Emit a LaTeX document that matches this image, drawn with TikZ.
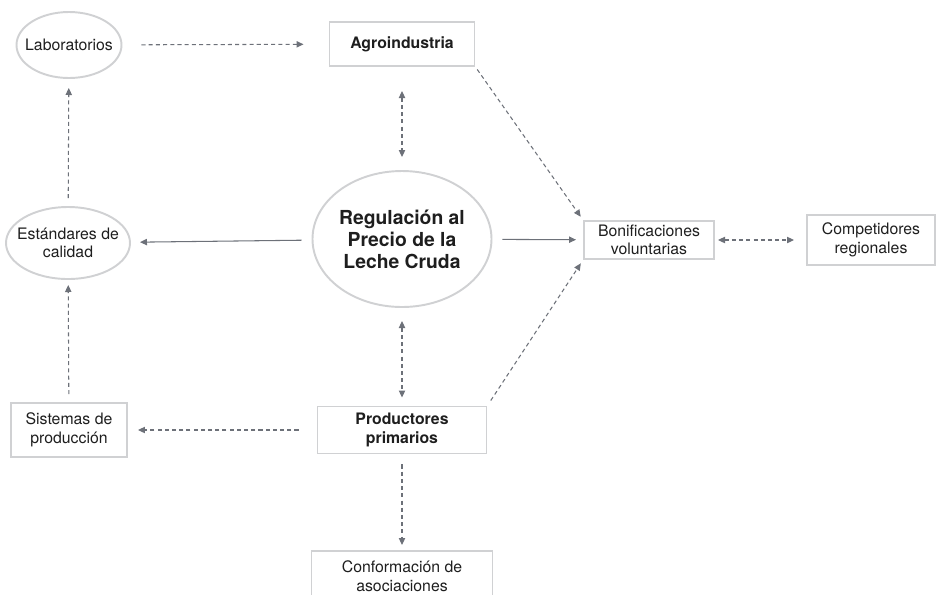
\documentclass[tikz,border=0pt]{standalone}
\usepackage{fontspec}
\setmainfont{TeX Gyre Heros}
\usepackage{tikz}
\usetikzlibrary{arrows.meta,shapes.geometric}
\definecolor{framegray}{HTML}{D0D1D3}
\definecolor{linkgray}{HTML}{6D7179}
\definecolor{textgray}{HTML}{1E1E1E}

\begin{document}
\begin{tikzpicture}[
    every node/.style={draw=framegray, line width=1.1pt, align=center, text=textgray, font=\fontsize{9}{10.5}\selectfont, inner sep=2pt},
    box/.style={rectangle},
    oval/.style={ellipse, inner xsep=-4pt, inner ysep=0pt},
    link/.style={-{Triangle[length=4pt,width=3.6pt]}, draw=linkgray, line width=0.6pt},
    twolink/.style={{Triangle[length=4pt,width=3.6pt]}-{Triangle[length=4pt,width=3.6pt]}, draw=linkgray, line width=0.6pt},
    dashline/.style={dash pattern=on 2.3pt off 1.8pt}
]
    \useasboundingbox (0,0) rectangle (18.74,-11.88);

    % Top row
    \node[oval, minimum width=2.1cm, minimum height=1.32cm] (Lab) at (1.38,-0.90) {Laboratorios};
    \node[box, minimum width=2.9cm, minimum height=0.88cm] (Agro) at (8.04,-0.88) {\textbf{Agroindustria}};

    % Middle row
    \node[oval, minimum width=2.4cm, minimum height=1.44cm] (Std) at (1.36,-4.86) {Estándares de\\calidad};
    \node[oval, inner xsep=0pt, minimum width=3.58cm, minimum height=2.72cm, font=\fontsize{11}{12.5}\selectfont\bfseries] (Reg) at (8.04,-4.78) {Regulación al\\Precio de la\\Leche Cruda};
    \node[box, minimum width=2.6cm, minimum height=0.76cm] (Bonif) at (12.98,-4.80) {Bonificaciones\\voluntarias};
    \node[box, minimum width=2.56cm, minimum height=1.0cm] (Comp) at (17.42,-4.80) {Competidores\\regionales};

    % Bottom row
    \node[box, minimum width=2.32cm, minimum height=1.08cm] (Sist) at (1.38,-8.60) {Sistemas de\\producción};
    \node[box, minimum width=3.38cm, minimum height=0.94cm] (Prod) at (8.04,-8.60) {\textbf{Productores}\\\textbf{primarios}};
    \node[box, minimum width=3.62cm, minimum height=1.0cm] (Conf) at (8.04,-11.52) {Conformación de\\asociaciones};

    % Arrows
    \draw[link, dashline, shorten <=0.38cm, shorten >=0.5cm] (Lab) -- (Agro);
    \draw[twolink, dashline, shorten <=0.48cm, shorten >=0.26cm] (Agro) -- (Reg);
    \draw[twolink, dashline, shorten <=0.26cm, shorten >=0.16cm] (Reg) -- (Prod);
    \draw[link, dashline, shorten <=0.2cm, shorten >=0.1cm] (Prod) -- (Conf);
    \draw[link, dashline, shorten <=0.36cm, shorten >=0.2cm] (Prod) -- (Sist);
    \draw[link, dashline, shorten <=0.16cm, shorten >=0.1cm] (Sist) -- (Std);
    \draw[link, dashline, shorten <=0.16cm, shorten >=0.18cm] (Std) -- (Lab);
    \draw[link, shorten <=0.2cm, shorten >=0.18cm] (Reg) -- (Std);
    \draw[link, shorten <=0.2cm, shorten >=0.14cm] (Reg) -- (Bonif);
    \draw[twolink, dashline, shorten <=0.06cm, shorten >=0.24cm] (Bonif) -- (Comp);
    \draw[link, dashline, shorten <=0.06cm, shorten >=0.08cm] (Agro.south east) -- (Bonif.north west);
    \draw[link, dashline, shorten <=0.12cm, shorten >=0.08cm] (Prod.north east) -- (Bonif.south west);
\end{tikzpicture}
\end{document}
